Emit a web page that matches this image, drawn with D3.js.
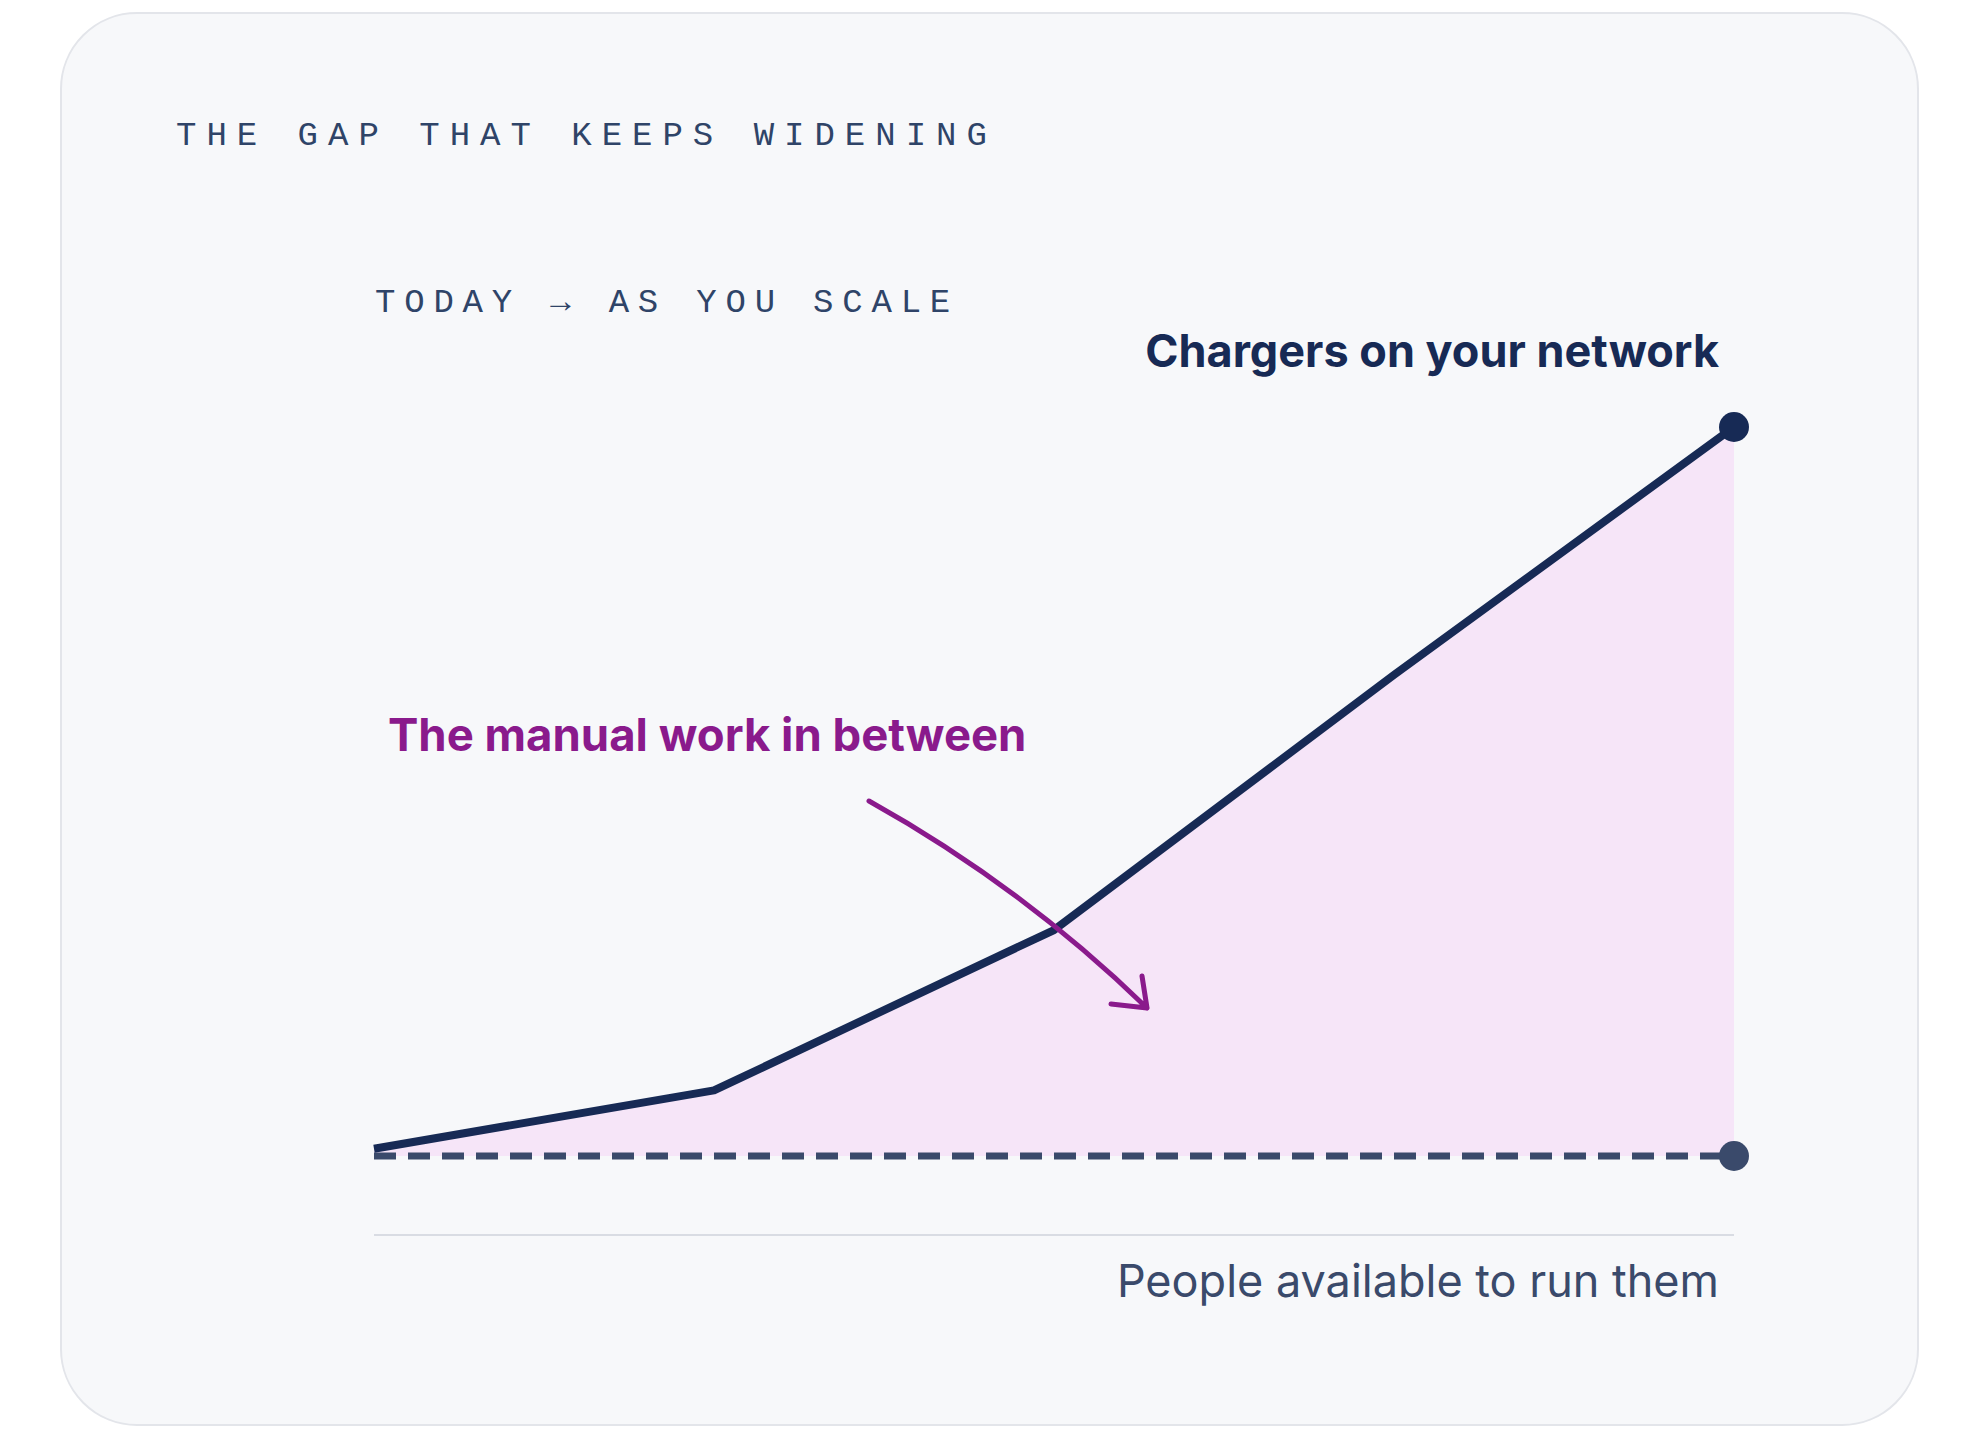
<!DOCTYPE html>
<html><head><meta charset="utf-8">
<script src="https://cdn.jsdelivr.net/npm/d3@7"></script>
<style>
body{margin:0;background:#fff}
text{font-family:Inter,"Noto Sans",sans-serif}
.mono{font-family:"Liberation Mono","DejaVu Sans Mono",monospace;letter-spacing:10px;fill:#2f4468;font-size:34px}
</style></head><body>
<svg id="chart" width="1980" height="1440"></svg>
<script>
// stages from today to scaled network
const stages = ['Today', 'Step 2', 'Step 3', 'Step 4', 'At scale']
const chargers = [1, 9, 31, 66, 100]
const people = [0, 0, 0, 0, 0]

const svg = d3.select('#chart')

svg.append('rect').attr('x', 61).attr('y', 13).attr('width', 1857).attr('height', 1412)
  .attr('rx', 76).attr('fill', '#f7f8fa').attr('stroke', '#e3e5ea').attr('stroke-width', 2)

svg.append('text').attr('class', 'mono').attr('x', 176).attr('y', 145).text('THE GAP THAT KEEPS WIDENING')
svg.append('text').attr('class', 'mono').attr('x', 375).attr('y', 312)
  .style('letter-spacing', '8.8px').text('TODAY → AS YOU SCALE')

const x = d3.scalePoint().domain(stages).range([374, 1734])
const y = d3.scaleLinear().domain([0, 100]).range([1156, 427])

const rows = stages.map((s, i) => ({s, c: chargers[i], p: people[i]}))

svg.append('path').datum(rows)
  .attr('fill', '#f6e5f8')
  .attr('d', d3.area().x(d => x(d.s)).y0(d => y(d.p)).y1(d => y(d.c)))

svg.append('line').attr('x1', x.range()[0]).attr('x2', x.range()[1])
  .attr('y1', 1235).attr('y2', 1235).attr('stroke', '#d9dce3').attr('stroke-width', 2)

svg.append('path').datum(rows)
  .attr('fill', 'none').attr('stroke', '#3a4a6b').attr('stroke-width', 7)
  .attr('stroke-dasharray', '22 12')
  .attr('d', d3.line().x(d => x(d.s)).y(d => y(d.p)))

svg.append('path').datum(rows)
  .attr('fill', 'none').attr('stroke', '#172a55').attr('stroke-width', 8)
  .attr('stroke-linejoin', 'round')
  .attr('d', d3.line().x(d => x(d.s)).y(d => y(d.c)))

const last = rows[rows.length - 1]
svg.append('circle').attr('cx', x(last.s)).attr('cy', y(last.c)).attr('r', 15).attr('fill', '#172a55')
svg.append('circle').attr('cx', x(last.s)).attr('cy', y(last.p)).attr('r', 15).attr('fill', '#3a4a6b')

svg.append('text').attr('x', 1719).attr('y', 367).attr('text-anchor', 'end')
  .attr('font-size', 45).attr('font-weight', 700).attr('fill', '#172a55').text('Chargers on your network')
svg.append('text').attr('x', 1719).attr('y', 1297).attr('text-anchor', 'end')
  .attr('font-size', 45).attr('fill', '#3a4a6b').text('People available to run them')
svg.append('text').attr('x', 388).attr('y', 751)
  .attr('font-size', 45.5).attr('font-weight', 700).attr('fill', '#8a1a8c').text('The manual work in between')

// hand-drawn style arrow into the gap
svg.append('path').attr('d', 'M869,801 Q1020,885 1147,1008 M1111,1004 L1147,1008 L1142,976')
  .attr('fill', 'none').attr('stroke', '#8a1a8c').attr('stroke-width', 5)
  .attr('stroke-linecap', 'round').attr('stroke-linejoin', 'round')
</script></body></html>
